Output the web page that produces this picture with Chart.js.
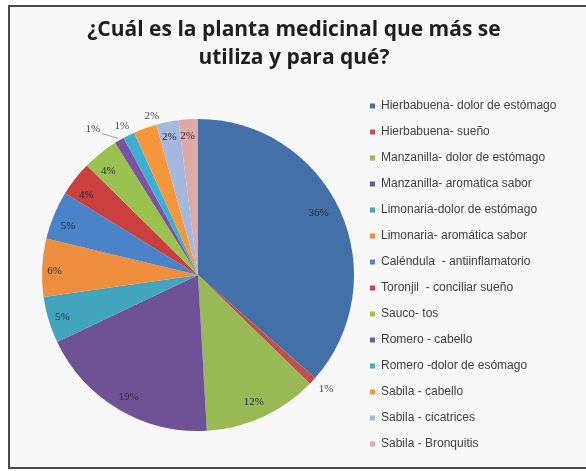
<!DOCTYPE html>
<html>
<head>
<meta charset="utf-8">
<title>Planta medicinal</title>
<script src="https://cdn.jsdelivr.net/npm/chart.js@4.4.1/dist/chart.umd.min.js"></script>
<style>
    html, body {
        margin: 0;
        padding: 0;
        background: #ffffff;
    }
    .wrap {
        position: relative;
        width: 586px;
        height: 471px;
        overflow: hidden;
    }
    .frame {
        position: absolute;
        left: 8px;
        top: 5px;
        width: 600px;
        height: 460px;
        border: 2px solid #4a4a4a;
        background: #f8f8f8;
    }
    #pieChart {
        position: absolute;
        left: 0;
        top: 0;
    }
</style>
</head>
<body>
<div class="wrap">
    <div class="frame"></div>
    <canvas id="pieChart" width="586" height="471"></canvas>
</div>
<script>
var titleLines = ['¿Cuál es la planta medicinal que más se', 'utiliza y para qué?'];

var categories = [
    'Hierbabuena- dolor de estómago',
    'Hierbabuena- sueño',
    'Manzanilla- dolor de estómago',
    'Manzanilla- aromatica sabor',
    'Limonaria-dolor de estómago',
    'Limonaria- aromática sabor',
    'Caléndula  - antiinflamatorio',
    'Toronjil  - conciliar sueño',
    'Sauco- tos',
    'Romero - cabello',
    'Romero -dolor de esómago',
    'Sabila - cabello',
    'Sabila - cicatrices',
    'Sabila - Bronquitis'
];

// shares
var shares = [36.4, 0.8, 11.8, 18.8, 4.8, 6.0, 5.0, 3.6, 3.7, 1.0, 1.2, 2.4, 2.3, 2.0];

var sliceColors = [
    '#4470a9', '#c0504d', '#98b954', '#6f5295', '#43a5bd', '#ee8e3e', '#4a83c8',
    '#c9403e', '#9bc250', '#7b52a6', '#3db0d0', '#f7963b', '#a5b8de', '#ddaaaa'
];

// label placement: fraction of radius, and angle nudge in degrees
var labelRadius = [0.87, 1.1, 0.89, 0.9, 0.91, 0.92, 0.89, 0.88, 0.88, 1.155, 1.07, 1.06, 0.9, 0.89];
var labelShift = [-3, -1, 0.8, -1, -0.5, -1, -2, -2.4, -2, -5.4, -0.8, 3.6, -0.4, -0.7];

var LEGEND_WIDTH = 230;
var TITLE_CENTER_X = 294;

var legendWidthPlugin = {
    id: 'legendWidth',
    beforeInit: function (chart) {
        var legend = chart.legend;
        if (!legend) return;
        var origFit = legend.fit;
        legend.fit = function () {
            origFit.call(legend);
            legend.width = LEGEND_WIDTH;
        };
    },
    afterLayout: function (chart) {
        // centre the title on the whole frame, not on the padded area
        var t = chart.titleBlock;
        if (!t) return;
        t.left = 0;
        t.right = TITLE_CENTER_X * 2;
        t.width = t.right;
    }
};

var pieLabelsPlugin = {
    id: 'pieLabels',
    afterDatasetsDraw: function (chart) {
        var ctx = chart.ctx;
        var meta = chart.getDatasetMeta(0);
        var total = shares.reduce(function (a, b) {
            return a + b;
        }, 0);
        ctx.save();
        ctx.font = '11px "Liberation Serif", serif';
        ctx.textAlign = 'center';
        ctx.textBaseline = 'middle';
        meta.data.forEach(function (arc, i) {
            var mid = (arc.startAngle + arc.endAngle) / 2;
            var ang = mid + labelShift[i] * Math.PI / 180;
            var r = arc.outerRadius * labelRadius[i];
            var x = arc.x + Math.cos(ang) * r;
            var y = arc.y + Math.sin(ang) * r;
            var txt = Math.round(shares[i] / total * 100) + '%';

            if (labelRadius[i] > 1.12) {
                // leader line from the label to its slice
                ctx.strokeStyle = '#8a8a8a';
                ctx.lineWidth = 0.8;
                ctx.beginPath();
                ctx.moveTo(x + 9, y + 5);
                ctx.quadraticCurveTo(x + 14, y + 6, arc.x + Math.cos(mid) * (arc.outerRadius + 2), arc.y + Math.sin(mid) * (arc.outerRadius + 2));
                ctx.stroke();
            }
            ctx.fillStyle = labelRadius[i] > 1 ? '#4a4a4a' : '#2b2b3a';
            ctx.fillText(txt, x, y);
        });
        ctx.restore();
    }
};

new Chart(document.getElementById('pieChart'), {
    type: 'pie',
    data: {
        labels: categories,
        datasets: [{
            data: shares,
            backgroundColor: sliceColors,
            borderWidth: 0,
            radius: 156
        }]
    },
    options: {
        responsive: false,
        animation: false,
        layout: {padding: {top: 10, left: 40, right: 0, bottom: 0}},
        plugins: {
            tooltip: {enabled: false},
            title: {
                display: true,
                text: titleLines,
                color: '#1e1e1e',
                font: {family: '"Open Sans"', size: 21, weight: 'bold', lineHeight: 1.3334},
                padding: {top: 6, bottom: 7}
            },
            legend: {
                position: 'right',
                align: 'center',
                fullSize: false,
                labels: {
                    boxWidth: 5,
                    boxHeight: 5,
                    padding: 14,
                    color: '#404040',
                    font: {family: '"Liberation Sans", Arial, sans-serif', size: 12}
                }
            }
        }
    },
    plugins: [legendWidthPlugin, pieLabelsPlugin]
});
</script>
</body>
</html>
